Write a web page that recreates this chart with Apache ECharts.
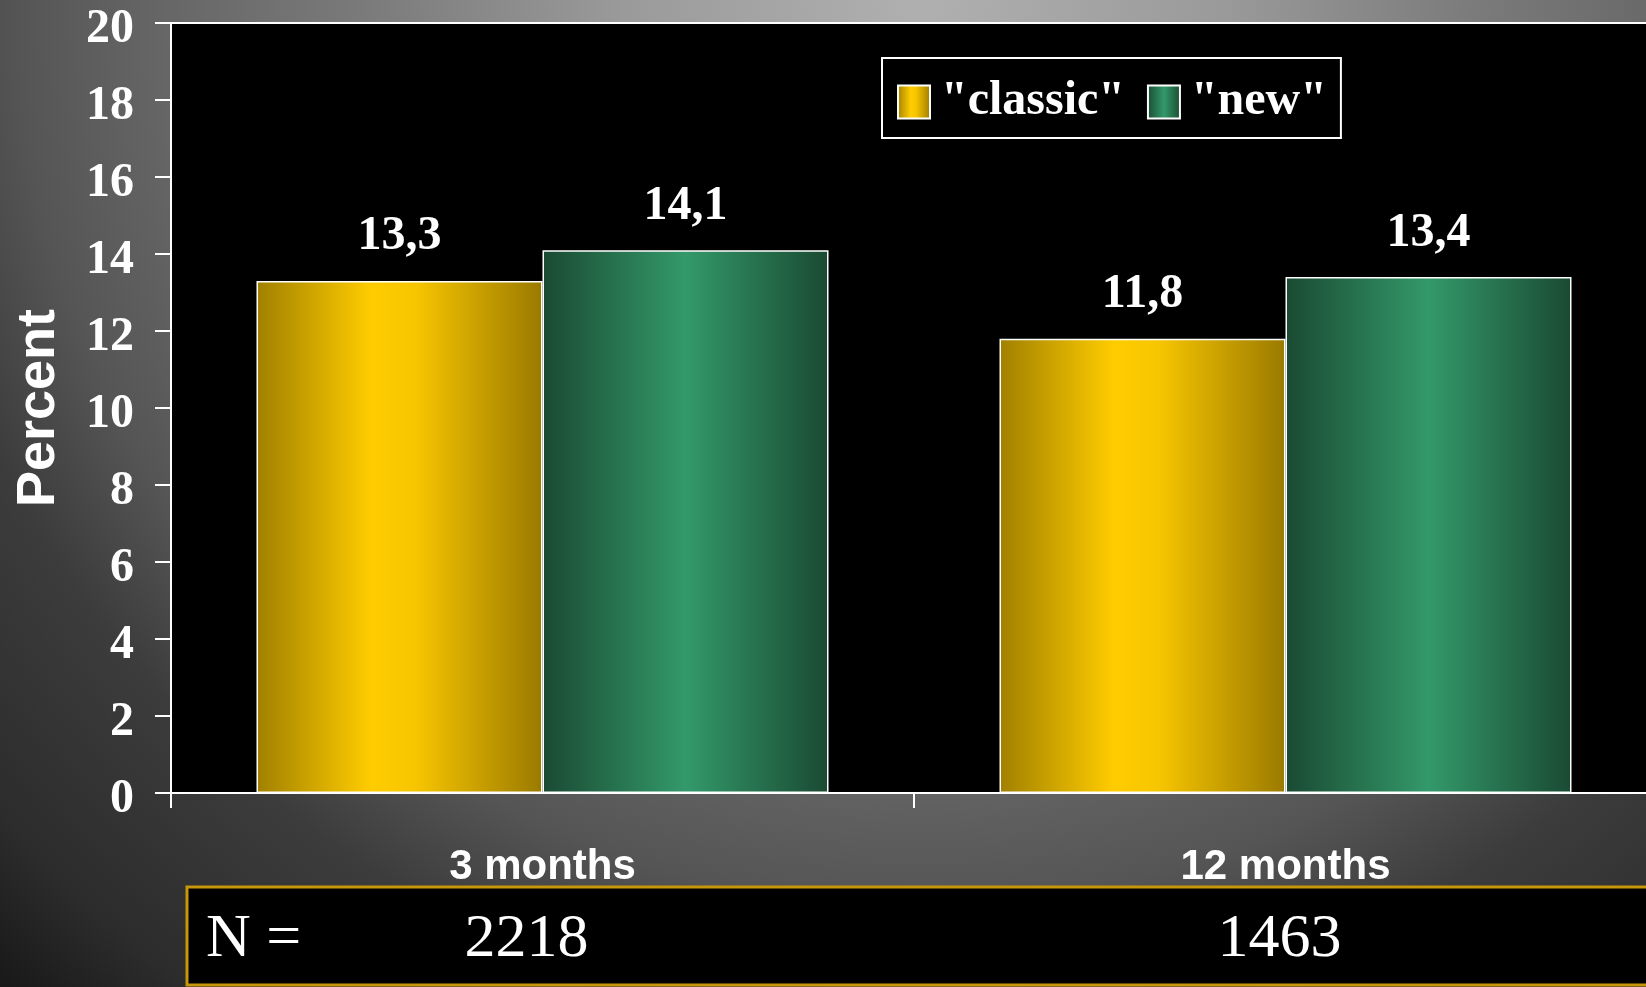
<!DOCTYPE html>
<html>
<head>
<meta charset="utf-8">
<script src="https://cdn.jsdelivr.net/npm/echarts@6/dist/echarts.min.js"></script>
<style>
  html, body { margin: 0; padding: 0; }
  body {
    width: 1646px; height: 987px; overflow: hidden;
    background: radial-gradient(circle at 56% 0%, #b0b0b0 0px, #9a9a9a 300px, #7a7a7a 560px, #666666 760px, #555555 905px, #3c3c3c 1030px, #2c2c2c 1230px, #1a1a1a 1340px, #161616 1500px);
  }
  #chart { width: 1646px; height: 987px; }
</style>
</head>
<body>
<div id="chart"></div>
<script>
const categories = ['3 months', '12 months'];
const seriesNames = ['"classic"', '"new"'];
const classicValues = [13.3, 11.8];
const newValues = [14.1, 13.4];
const nValues = [2218, 1463];
const nLabel = 'N =';
const yAxisName = 'Percent';

const serif = "'Liberation Serif', 'Times New Roman', serif";
const sans = "'Liberation Sans', Arial, sans-serif";

function hGrad(stops) {
  return new echarts.graphic.LinearGradient(0, 0, 1, 0, stops.map(c => ({ offset: c[0], color: c[1] })));
}
const goldFill = hGrad([[0, '#a08000'], [0.4, '#ffcc00'], [0.55, '#f8c600'], [1, '#9a7a00']]);
const greenFill = hGrad([[0, '#1a4a32'], [0.5, '#33996a'], [1, '#1a4a32']]);

const chart = echarts.init(document.getElementById('chart'), null, { renderer: 'canvas' });

const dataLabel = {
  show: true,
  position: 'top',
  distance: 20,
  color: '#fff',
  fontFamily: serif,
  fontWeight: 'bold',
  fontSize: 48,
  formatter: p => String(p.value).replace('.', ',')
};

chart.setOption({
  backgroundColor: 'transparent',
  animation: false,
  grid: {
    left: 171, top: 23, width: 1486, height: 770,
    show: true, backgroundColor: '#000', borderColor: '#fff', borderWidth: 2,
    containLabel: false,
    outerBoundsMode: 'none'
  },
  legend: {
    left: 882, top: 58,
    padding: [20, 14, 12, 15],
    backgroundColor: '#000',
    borderColor: '#fff', borderWidth: 2,
    itemWidth: 32, itemHeight: 33,
    itemGap: 22,
    icon: 'rect',
    textStyle: { color: '#fff', fontFamily: serif, fontWeight: 'bold', fontSize: 48, padding: [0, 0, 0, 6] },
    data: seriesNames
  },
  xAxis: [{
    type: 'category',
    data: categories,
    axisLine: { show: true, lineStyle: { color: '#fff', width: 2 } },
    axisTick: { show: true, length: 15, lineStyle: { color: '#fff', width: 2 } },
    axisLabel: { color: '#fff', fontFamily: sans, fontWeight: 'bold', fontSize: 42, margin: 53 },
    splitLine: { show: false }
  }, {
    type: 'category',
    data: categories,
    position: 'bottom',
    axisLine: { show: false },
    axisTick: { show: false },
    axisLabel: {
      color: '#fff', fontFamily: serif, fontSize: 62, margin: 116,
      formatter: (v, i) => '{n' + i + '|' + nValues[i] + '}',
      rich: {
        n0: { color: '#fff', fontFamily: serif, fontSize: 62, padding: [0, 32, 0, 0] },
        n1: { color: '#fff', fontFamily: serif, fontSize: 62, padding: [0, 12, 0, 0] }
      }
    },
    splitLine: { show: false }
  }],
  yAxis: {
    type: 'value',
    min: 0, max: 20, interval: 2,
    name: yAxisName,
    nameLocation: 'middle',
    nameRotate: 90,
    nameGap: 105,
    nameTextStyle: { color: '#fff', fontFamily: sans, fontWeight: 'bold', fontSize: 54 },
    axisLine: { show: true, lineStyle: { color: '#fff', width: 2 } },
    axisTick: { show: true, length: 16, lineStyle: { color: '#fff', width: 2 } },
    axisLabel: {
      color: '#fff', fontFamily: serif, fontWeight: 'bold', fontSize: 48, margin: 37,
      formatter: v => '{t|' + v + '}',
      rich: { t: { color: '#fff', fontFamily: serif, fontWeight: 'bold', fontSize: 48, padding: [14, 0, 0, 0] } }
    },
    splitLine: { show: false }
  },
  graphic: [
    { type: 'rect', z: -1, silent: true, shape: { x: 187, y: 887, width: 1500, height: 98 },
      style: { fill: '#000', stroke: '#c8960a', lineWidth: 3 } },
    { type: 'text', z: 10, silent: true, left: 206, top: 909,
      style: { text: nLabel, fill: '#fff', font: "62px 'Liberation Serif', serif" } }
  ],
  series: [{
    name: seriesNames[0],
    type: 'bar',
    data: classicValues,
    barWidth: 286,
    barGap: '0%',
    itemStyle: { color: goldFill, borderColor: '#fff', borderWidth: 1.5 },
    label: dataLabel
  }, {
    name: seriesNames[1],
    type: 'bar',
    data: newValues,
    barWidth: 286,
    barGap: '0%',
    itemStyle: { color: greenFill, borderColor: '#fff', borderWidth: 1.5 },
    label: dataLabel
  }]
});
</script>
</body>
</html>
